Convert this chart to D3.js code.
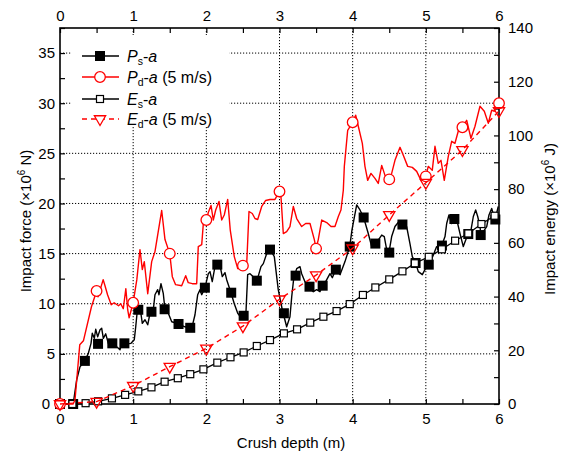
<!DOCTYPE html>
<html><head><meta charset="utf-8">
<script src="https://cdn.jsdelivr.net/npm/d3@7"></script>
<style>body{margin:0;background:#fff}svg{display:block}text{font-family:"Liberation Sans",Arial,sans-serif}</style>
</head><body><svg id="c" width="561" height="452"></svg>
<script>
// ---- data ----
const xTicks = [0,1,2,3,4,5,6];
const leftTicks = [0,5,10,15,20,25,30,35];
const rightTicks = [0,20,40,60,80,100,120,140];

// P_d-a (5 m/s) dense curve [depth, force]
const pdLine = [[0,0],[0.18,0],[0.205,0.4],[0.27,5.9],[0.32,6.3],[0.43,9.7],[0.5,11.27],[0.52,10.7],[0.59,12.4],[0.615,11.8],[0.65,10.9],[0.70,9.9],[0.74,10.1],[0.80,9.8],[0.83,10.0],[0.865,9.5],[0.90,11.5],[0.925,9.4],[0.945,8.6],[1.0,10.1],[1.05,12.4],[1.093,15.4],[1.125,13.4],[1.152,14.2],[1.199,11.0],[1.253,14.2],[1.298,15.2],[1.39,19.3],[1.435,16.4],[1.5,15.0],[1.535,12.7],[1.58,11.9],[1.663,11.8],[1.718,12.8],[1.753,12.1],[1.808,12.0],[1.868,12.0],[1.89,15.7],[1.937,15.9],[1.958,17.9],[2.0,18.35],[2.027,19.1],[2.064,19.8],[2.095,18.35],[2.128,19.35],[2.173,20.2],[2.21,18.35],[2.245,18.85],[2.292,20.4],[2.327,17.35],[2.382,14.7],[2.429,13.5],[2.483,13.9],[2.5,13.8],[2.552,14.0],[2.583,19.2],[2.628,19.0],[2.665,18.5],[2.702,18.4],[2.757,19.7],[2.811,20.3],[2.87,20.4],[2.938,20.4],[3.0,21.2],[3.02,20.7],[3.052,17.0],[3.098,17.2],[3.143,17.7],[3.189,19.7],[3.235,18.5],[3.303,17.7],[3.358,18.0],[3.417,18.0],[3.476,16.4],[3.5,15.5],[3.53,16.4],[3.577,18.35],[3.645,18.1],[3.704,17.7],[3.758,17.7],[3.804,18.7],[3.84,19.35],[3.872,21.3],[3.886,23.7],[3.932,27.3],[4.0,28.1],[4.041,28.8],[4.077,27.7],[4.132,26.0],[4.168,23.7],[4.205,22.3],[4.25,23.0],[4.305,22.5],[4.35,22.0],[4.397,23.8],[4.442,22.8],[4.5,22.4],[4.533,23.0],[4.578,24.3],[4.647,25.6],[4.692,24.8],[4.752,23.7],[4.815,23.6],[4.875,23.2],[4.934,22.3],[5.0,22.7],[5.033,23.7],[5.088,23.3],[5.125,25.7],[5.17,24.0],[5.207,24.3],[5.252,22.3],[5.307,24.7],[5.353,26.2],[5.398,26.0],[5.443,27.2],[5.5,27.6],[5.558,28.3],[5.617,26.5],[5.672,27.7],[5.74,29.7],[5.799,29.2],[5.854,28.0],[5.9,29.3],[5.936,29.2],[6.0,30.0]];
const pdMarkX = [0,0.5,1,1.5,2,2.5,3,3.5,4,4.5,5,5.5,6];
const pdMarkY = [0,11.27,10.1,15.0,18.35,13.8,21.2,15.5,28.1,22.4,22.7,27.6,30.0];

// P_s-a dense curve [depth, force]
const psLine = [[0,0],[0.18,0],[0.228,2.4],[0.273,3.7],[0.34,4.3],[0.387,5.05],[0.424,6.05],[0.441,7.05],[0.469,6.55],[0.488,7.45],[0.515,6.7],[0.547,7.4],[0.57,7.55],[0.592,6.55],[0.625,7.0],[0.66,6.05],[0.728,6.05],[0.775,5.7],[0.82,5.4],[0.843,6.05],[0.912,6.0],[0.97,6.05],[1.015,6.4],[1.035,7.7],[1.062,9.7],[1.093,9.7],[1.125,8.05],[1.162,8.4],[1.199,7.9],[1.23,9.05],[1.275,9.4],[1.298,10.9],[1.335,11.4],[1.353,10.9],[1.38,12.0],[1.412,11.0],[1.435,9.4],[1.48,9.05],[1.527,8.2],[1.595,8.05],[1.708,7.7],[1.8,7.55],[1.845,8.9],[1.882,10.9],[1.913,11.4],[1.937,10.9],[1.982,11.6],[2.027,13.0],[2.05,13.2],[2.081,12.2],[2.118,13.7],[2.146,14.0],[2.187,13.8],[2.218,12.7],[2.255,13.1],[2.278,12.4],[2.337,11.1],[2.382,10.0],[2.429,9.05],[2.483,8.55],[2.538,8.55],[2.565,12.9],[2.597,13.0],[2.642,12.7],[2.665,11.9],[2.692,12.3],[2.747,13.7],[2.779,14.0],[2.825,15.0],[2.874,15.4],[2.929,14.7],[2.983,11.4],[3.038,9.4],[3.098,7.7],[3.143,8.7],[3.167,10.7],[3.194,12.5],[3.235,13.5],[3.28,13.7],[3.303,13.0],[3.348,12.2],[3.394,11.7],[3.462,11.2],[3.508,11.4],[3.553,11.2],[3.585,11.8],[3.631,12.2],[3.69,13.0],[3.722,12.6],[3.768,13.4],[3.827,12.9],[3.895,14.2],[3.96,15.7],[3.99,17.35],[4.055,19.85],[4.1,19.35],[4.15,18.6],[4.213,17.0],[4.26,15.7],[4.315,16.0],[4.397,16.85],[4.432,16.7],[4.465,15.4],[4.496,15.1],[4.533,16.7],[4.578,17.7],[4.633,18.2],[4.678,17.9],[4.738,17.7],[4.783,16.0],[4.815,14.7],[4.861,14.06],[4.897,13.2],[4.952,12.9],[4.988,13.4],[5.043,13.9],[5.102,14.85],[5.148,15.7],[5.217,15.8],[5.262,16.7],[5.285,18.0],[5.316,18.85],[5.353,18.0],[5.389,18.45],[5.435,18.0],[5.467,17.0],[5.512,15.7],[5.545,16.35],[5.58,16.95],[5.617,17.35],[5.649,18.7],[5.681,19.35],[5.709,18.7],[5.74,17.7],[5.754,16.85],[5.832,17.7],[5.863,18.85],[5.9,19.5],[5.945,18.35],[5.99,19.7]];
const psMarkX = [0,0.18,0.34,0.52,0.715,0.88,1.07,1.25,1.43,1.62,1.78,1.98,2.15,2.34,2.51,2.69,2.87,3.06,3.22,3.41,3.59,3.77,3.96,4.15,4.31,4.50,4.68,4.86,5.04,5.22,5.39,5.58,5.75,5.95];
const psMarkY = [0,0,4.3,6.0,6.05,6.05,9.4,9.2,9.45,7.98,7.6,11.6,13.9,11.1,8.8,12.3,15.4,9.05,12.8,11.7,11.8,13.4,15.7,18.6,16.0,15.1,17.9,14.06,13.9,15.8,18.45,16.95,16.85,18.4];

// E_s-a (energy, right axis)
const esX = [0,0.17,0.35,0.52,0.71,0.89,1.07,1.25,1.43,1.61,1.78,1.96,2.15,2.33,2.51,2.69,2.87,3.06,3.24,3.42,3.60,3.78,3.96,4.14,4.31,4.50,4.68,4.85,5.04,5.22,5.40,5.58,5.76,5.94];
const esY = [0,0,0.3,1.0,2.1,3.4,4.7,6.2,8.3,9.6,11.1,12.9,15.4,17.4,19.2,21.6,23.8,26.3,27.8,30.3,32.5,34.6,37.2,40.6,43.4,46.4,49.4,52.4,54.8,57.6,60.8,63.5,67.0,70.1];

// E_d-a (5 m/s) (energy, right axis)
const edX = [0,0.5,1,1.5,2,2.5,3,3.5,4,4.5,5,5.5,6];
const edY = [0,0.9,6.8,13.9,20.7,29.0,39.0,48.0,58.0,70.4,82.4,94.6,109.1];

// ---- chart ----
const svg = d3.select("#c");
const L=60, R=499, T=28, B=404;
const x = d3.scaleLinear().domain([0,6]).range([L,R]);
const yl = d3.scaleLinear().domain([0,37.5]).range([B,T]);
const yr = d3.scaleLinear().domain([0,140]).range([B,T]);
const RED="#ff0000";

// grid
const g = svg.append("g");
g.selectAll("line.vg").data([1,2,3,4,5]).enter().append("line")
 .attr("x1",d=>x(d)).attr("x2",d=>x(d)).attr("y1",T).attr("y2",B)
 .attr("stroke","#000").attr("stroke-width",1).attr("stroke-dasharray","1.2,1.8");
g.selectAll("line.hg").data([5,10,15,20,25,30,35]).enter().append("line")
 .attr("y1",d=>yl(d)).attr("y2",d=>yl(d)).attr("x1",L).attr("x2",R)
 .attr("stroke","#000").attr("stroke-width",1).attr("stroke-dasharray","1.2,1.8");

// legend background
svg.append("rect").attr("x",72).attr("y",35).attr("width",157).attr("height",92).attr("fill","#fff");

// axes (ticks inward)
const fs = "15px";
function styleAxis(sel){ sel.selectAll("path").remove(); sel.selectAll("line").attr("stroke","#000").attr("stroke-width",1.2); sel.selectAll("text").attr("font-size",fs).attr("fill","#000").style("font-family","'Liberation Sans',Arial,sans-serif"); }
const xMinor = d3.range(0,6.01,0.5);
const axBot = svg.append("g").attr("transform",`translate(0,${B})`)
  .call(d3.axisBottom(x).tickValues(xMinor).tickSize(-5).tickPadding(9).tickFormat(d=>Number.isInteger(d)?d:""));
styleAxis(axBot);
const axTop = svg.append("g").attr("transform",`translate(0,${T})`)
  .call(d3.axisTop(x).tickValues(xMinor).tickSize(-5).tickPadding(7).tickFormat(d=>Number.isInteger(d)?d:""));
styleAxis(axTop);
const lMinor = d3.range(0,37.6,2.5);
const axLeft = svg.append("g").attr("transform",`translate(${L},0)`)
  .call(d3.axisLeft(yl).tickValues(lMinor).tickSize(-5).tickPadding(5).tickFormat(d=>leftTicks.includes(d)?d:""));
styleAxis(axLeft);
axLeft.selectAll(".tick").filter(d=>d===0).select("text").attr("x",-10);
const rMinor = d3.range(0,141,10);
const axRight = svg.append("g").attr("transform",`translate(${R},0)`)
  .call(d3.axisRight(yr).tickValues(rMinor).tickSize(-5).tickPadding(9).tickFormat(d=>rightTicks.includes(d)?d:""));
styleAxis(axRight);

// frame
svg.append("rect").attr("x",L).attr("y",T).attr("width",R-L).attr("height",B-T)
 .attr("fill","none").attr("stroke","#000").attr("stroke-width",1.6);

// axis titles
svg.append("text").attr("x",291).attr("y",448).attr("text-anchor","middle").attr("font-size",fs).text("Crush depth (m)");
const lt = svg.append("text").attr("transform","translate(31,221) rotate(-90)").attr("text-anchor","middle").attr("font-size",fs);
lt.append("tspan").text("Impact force (×10");
lt.append("tspan").attr("font-size","10px").attr("dy",-6).text("6");
lt.append("tspan").attr("dy",6).text(" N)");
const rt = svg.append("text").attr("transform","translate(555,219) rotate(-90)").attr("text-anchor","middle").attr("font-size",fs);
rt.append("tspan").text("Impact energy (×10");
rt.append("tspan").attr("font-size","10px").attr("dy",-6).text("6");
rt.append("tspan").attr("dy",6).text(" J)");

const lineL = d3.line().x(d=>x(d[0])).y(d=>yl(d[1]));
const lineR = d3.line().x(d=>x(d[0])).y(d=>yr(d[1]));

// P_s-a
svg.append("path").datum(psLine).attr("d",lineL).attr("fill","none").attr("stroke","#000").attr("stroke-width",1.4).attr("stroke-linejoin","round");
svg.selectAll("rect.ps").data(d3.zip(psMarkX,psMarkY)).enter().append("rect")
 .attr("x",d=>x(d[0])-5).attr("y",d=>yl(d[1])-5).attr("width",10).attr("height",10).attr("fill","#000");

// E_s-a
const esData = d3.zip(esX,esY);
svg.append("path").datum(esData).attr("d",lineR).attr("fill","none").attr("stroke","#000").attr("stroke-width",1.3);
svg.selectAll("rect.es").data(esData).enter().append("rect")
 .attr("x",d=>x(d[0])-3.5).attr("y",d=>yr(d[1])-3.5).attr("width",7).attr("height",7)
 .attr("fill","#fff").attr("stroke","#000").attr("stroke-width",1.2);

// P_d-a
svg.append("path").datum(pdLine).attr("d",lineL).attr("fill","none").attr("stroke",RED).attr("stroke-width",1.4).attr("stroke-linejoin","round");
svg.selectAll("circle.pd").data(d3.zip(pdMarkX,pdMarkY)).enter().append("circle")
 .attr("cx",d=>x(d[0])).attr("cy",d=>yl(d[1])).attr("r",5.3)
 .attr("fill","#fff").attr("stroke",RED).attr("stroke-width",1.3);

// E_d-a
const edData = d3.zip(edX,edY);
svg.append("path").datum(edData).attr("d",lineR).attr("fill","none").attr("stroke",RED).attr("stroke-width",1.4).attr("stroke-dasharray","5,4");
const tri = d3.symbol().type(d3.symbolTriangle).size(55);
svg.selectAll("path.ed").data(edData).enter().append("path")
 .attr("d",tri).attr("transform",d=>`translate(${x(d[0])},${yr(d[1])}) rotate(180)`)
 .attr("fill","none").attr("stroke",RED).attr("stroke-width",1.3);

// legend
const leg = svg.append("g");
const rows = [
 {y:56, sub:"s", extra:"", color:"#000", dash:null, mark:"fsq"},
 {y:77, sub:"d", extra:" (5 m/s)", color:RED, dash:null, mark:"circ"},
 {y:99, sub:"s", extra:"", color:"#000", dash:null, mark:"osq", letter:"E"},
 {y:119, sub:"d", extra:" (5 m/s)", color:RED, dash:"5,4", mark:"tri", letter:"E"}
];
rows.forEach(r=>{
  const ln = leg.append("line").attr("x1",82).attr("x2",119).attr("y1",r.y).attr("y2",r.y)
   .attr("stroke",r.color).attr("stroke-width",1.4);
  if(r.dash) ln.attr("stroke-dasharray",r.dash);
  if(r.mark==="fsq") leg.append("rect").attr("x",95).attr("y",r.y-5).attr("width",10).attr("height",10).attr("fill","#000");
  if(r.mark==="circ") leg.append("circle").attr("cx",100).attr("cy",r.y).attr("r",5.3).attr("fill","#fff").attr("stroke",RED).attr("stroke-width",1.3);
  if(r.mark==="osq") leg.append("rect").attr("x",96.5).attr("y",r.y-3.5).attr("width",7).attr("height",7).attr("fill","#fff").attr("stroke","#000").attr("stroke-width",1.2);
  if(r.mark==="tri") leg.append("path").attr("d",tri).attr("transform",`translate(100,${r.y}) rotate(180)`).attr("fill","#fff").attr("stroke",RED).attr("stroke-width",1.3);
  const t = leg.append("text").attr("x",127).attr("y",r.y+5.5).attr("font-size","16px");
  t.append("tspan").attr("font-style","italic").text(r.letter||"P");
  t.append("tspan").attr("font-size","10.5px").attr("dy",3).text(r.sub);
  t.append("tspan").attr("dy",-3).text("-");
  t.append("tspan").attr("font-style","italic").text("a");
  if(r.extra) t.append("tspan").text(r.extra);
});
</script></body></html>
